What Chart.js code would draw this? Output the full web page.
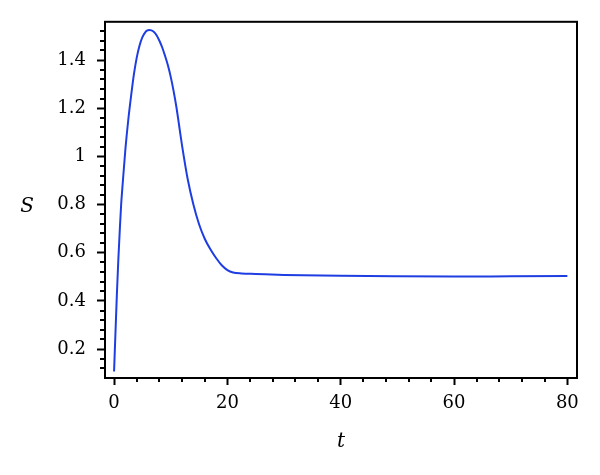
<!DOCTYPE html>
<html><head><meta charset="utf-8">
<script src="https://cdn.jsdelivr.net/npm/chart.js@4/dist/chart.umd.min.js"></script>
<style>html,body{margin:0;padding:0;background:#fff}</style>
</head><body>
<canvas id="c" width="600" height="475"></canvas>
<script>
// t (time) and S values
const tValues = [0, 0.25, 0.5, 0.75, 1.0, 1.25, 1.5, 2.0, 2.5, 3.0, 3.5, 4.0, 4.5, 5.0, 5.5, 5.8, 6.2, 6.6, 7.0, 7.5, 8.0, 8.5, 9.0, 9.5, 10.0, 10.5, 11.0, 11.5, 12.0, 13.0, 14.0, 15.0, 16.0, 17.0, 18.0, 19.0, 20.0, 21.0, 22.5, 25, 30, 40, 50, 60, 70, 80];
const sValues = [0.107, 0.27, 0.43, 0.57, 0.69, 0.80, 0.88, 1.03, 1.15, 1.25, 1.34, 1.41, 1.46, 1.495, 1.515, 1.522, 1.525, 1.523, 1.517, 1.503, 1.48, 1.452, 1.417, 1.378, 1.33, 1.272, 1.205, 1.125, 1.045, 0.905, 0.80, 0.718, 0.658, 0.614, 0.578, 0.548, 0.528, 0.518, 0.514, 0.512, 0.508, 0.504, 0.502, 0.501, 0.502, 0.503];
const xMajorTicks = [0, 20, 40, 60, 80];
const xMinorTicks = [4, 8, 12, 16, 24, 28, 32, 36, 44, 48, 52, 56, 64, 68, 72, 76];
const yMajorTicks = [0.2, 0.4, 0.6, 0.8, 1, 1.2, 1.4];
const yMinorTicks = [0.12, 0.16, 0.24, 0.28, 0.32, 0.36, 0.44, 0.48, 0.52, 0.56, 0.64, 0.68, 0.72, 0.76, 0.84, 0.88, 0.92, 0.96, 1.04, 1.08, 1.12, 1.16, 1.24, 1.28, 1.32, 1.36, 1.44, 1.48, 1.52];
const xTitle = 't';
const yTitle = 'S';

const FONT = '"DejaVu Serif", "Liberation Serif", serif';

const decor = {
  id: 'decor',
  afterDraw(chart) {
    const {ctx, chartArea: a, scales: {x, y}} = chart;
    ctx.save();
    ctx.strokeStyle = '#000';
    ctx.lineWidth = 2;
    ctx.strokeRect(a.left, a.top, a.right - a.left, a.bottom - a.top);
    ctx.beginPath();
    xMinorTicks.forEach(v => { const px = Math.round(x.getPixelForValue(v)); ctx.moveTo(px, a.bottom); ctx.lineTo(px, a.bottom + 4); });
    yMinorTicks.forEach(v => { const py = Math.round(y.getPixelForValue(v)); ctx.moveTo(a.left, py); ctx.lineTo(a.left - 5, py); });
    ctx.stroke();
    ctx.fillStyle = '#000';
    ctx.font = 'italic 20px ' + FONT;
    ctx.textAlign = 'center';
    ctx.textBaseline = 'middle';
    ctx.fillText(yTitle, 27, 207);
    ctx.restore();
  }
};

new Chart(document.getElementById('c'), {
  type: 'line',
  data: {
    datasets: [{
      data: tValues.map((t, i) => ({x: t, y: sValues[i]})),
      borderColor: '#1f3ee2',
      borderWidth: 2,
      pointRadius: 0,
      fill: false,
      cubicInterpolationMode: 'monotone'
    }]
  },
  options: {
    responsive: false,
    animation: false,
    devicePixelRatio: 1,
    layout: {padding: {left: 0, right: 23, top: 21, bottom: 0}},
    plugins: {legend: {display: false}, tooltip: {enabled: false}},
    scales: {
      x: {
        type: 'linear',
        min: -1.6,
        max: 81.7,
        afterBuildTicks: s => { s.ticks = xMajorTicks.map(v => ({value: v})); },
        afterFit: s => { s.height = 97; },
        ticks: {font: {family: FONT, size: 18}, color: '#000', padding: 8, maxRotation: 0, autoSkip: false, callback: v => String(v)},
        grid: {drawOnChartArea: false, drawTicks: true, tickLength: 7, tickColor: '#000', tickWidth: 2},
        border: {display: true, color: '#000', width: 2},
        title: {display: true, text: xTitle, color: '#000', font: {family: FONT, size: 20, style: 'italic'}, padding: {top: 0, bottom: 21}}
      },
      y: {
        type: 'linear',
        min: 0.08,
        max: 1.5586,
        afterBuildTicks: s => { s.ticks = yMajorTicks.map(v => ({value: v})); },
        afterFit: s => { s.width = 105; },
        ticks: {font: {family: FONT, size: 18}, color: '#000', padding: 11, autoSkip: false, callback: v => String(v)},
        grid: {drawOnChartArea: false, drawTicks: true, tickLength: 8, tickColor: '#000', tickWidth: 2},
        border: {display: true, color: '#000', width: 2}
      }
    }
  },
  plugins: [decor]
});
</script>
</body></html>
